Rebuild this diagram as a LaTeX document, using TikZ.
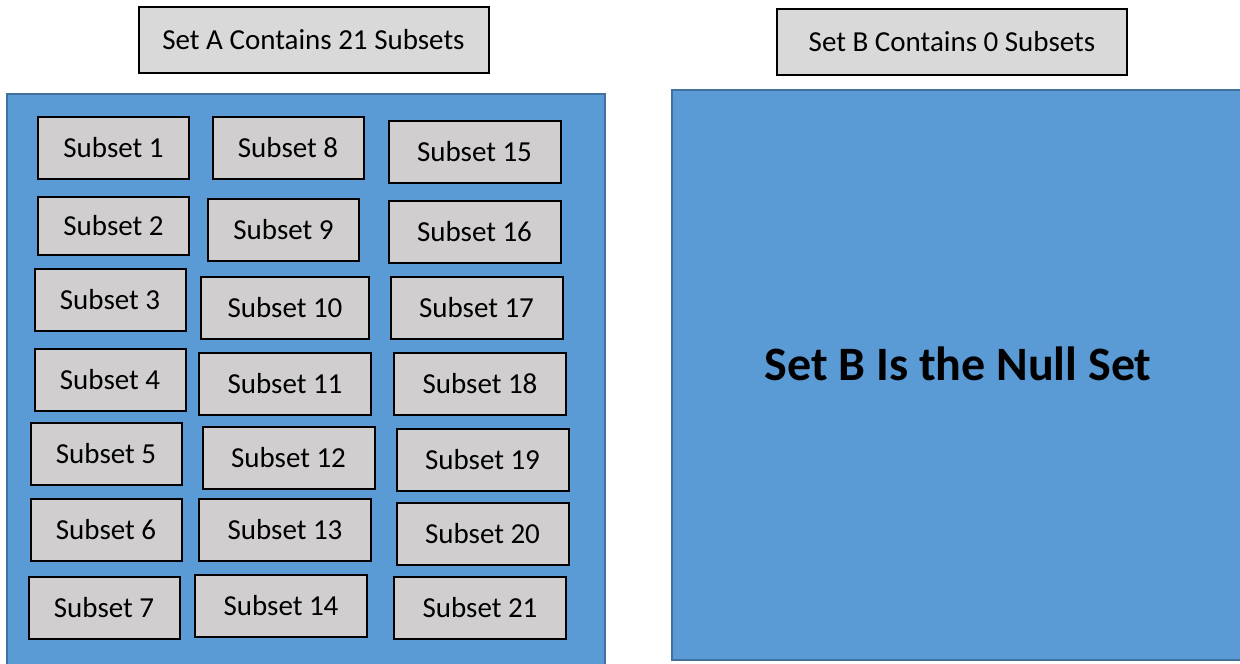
\documentclass[tikz,border=0pt]{standalone}
\usepackage{fontspec}
\setmainfont{Carlito}
\usepackage{tikz}

\definecolor{setblue}{HTML}{5B9BD5}
\definecolor{setedge}{HTML}{41719C}
\definecolor{subgray}{HTML}{D0CECE}
\definecolor{titlegray}{HTML}{D9D9D9}

\begin{document}
\begin{tikzpicture}[x=1pt, y=-1pt,
		setbox/.style={fill=setblue, draw=setedge, line width=2.5pt},
		titlebox/.style={shape=rectangle, draw, line width=2pt, fill=titlegray,
	minimum width=350pt, minimum height=66pt, font=\fontsize{29}{35}\selectfont},
		subbox/.style={shape=rectangle, draw, line width=2pt, fill=subgray,
	minimum width=172pt, minimum height=62pt, font=\fontsize{29}{35}\selectfont},
		narrow/.style={minimum width=151pt}]
			\useasboundingbox (0,0) rectangle (1240,664);
			\clip (0,0) rectangle (1240,664);
			% the two sets
			\draw[setbox] (7,94) rectangle (605,672);
			\draw[setbox] (672,90) rectangle (1250,660);
			\node[titlebox] (titleA) at (313.5,40) {Set A Contains 21 Subsets};
			\node[titlebox] (titleB) at (952,42) {Set B Contains 0 Subsets};
			\node[font=\fontsize{48}{58}\selectfont\bfseries] (nullB) at (958,364) {Set B Is the Null Set};
			% subsets of A, first column
			\node[subbox, narrow] (s1) at (113.5,148) {Subset 1};
			\node[subbox, narrow, minimum height=58pt] (s2) at (113.5,226) {Subset 2};
			\node[subbox, narrow] (s3) at (110,300) {Subset 3};
			\node[subbox, narrow] (s4) at (110,380) {Subset 4};
			\node[subbox, narrow] (s5) at (106,454) {Subset 5};
			\node[subbox, narrow] (s6) at (106,530) {Subset 6};
			\node[subbox, narrow] (s7) at (104,608) {Subset 7};
			% second column
			\node[subbox, narrow] (s8) at (288,148) {Subset 8};
			\node[subbox, narrow] (s9) at (283.5,230) {Subset 9};
			\node[subbox, minimum width=168pt] (s10) at (285,308) {Subset 10};
			\node[subbox] (s11) at (285,384) {Subset 11};
			\node[subbox] (s12) at (288.5,458) {Subset 12};
			\node[subbox] (s13) at (285,530) {Subset 13};
			\node[subbox] (s14) at (281,606) {Subset 14};
			% third column
			\node[subbox] (s15) at (474.5,152) {Subset 15};
			\node[subbox] (s16) at (474.5,232) {Subset 16};
			\node[subbox] (s17) at (476.5,308) {Subset 17};
			\node[subbox] (s18) at (480,384) {Subset 18};
			\node[subbox] (s19) at (482.5,460) {Subset 19};
			\node[subbox] (s20) at (482.5,534) {Subset 20};
			\node[subbox] (s21) at (480,608) {Subset 21};
		\end{tikzpicture}
\end{document}
